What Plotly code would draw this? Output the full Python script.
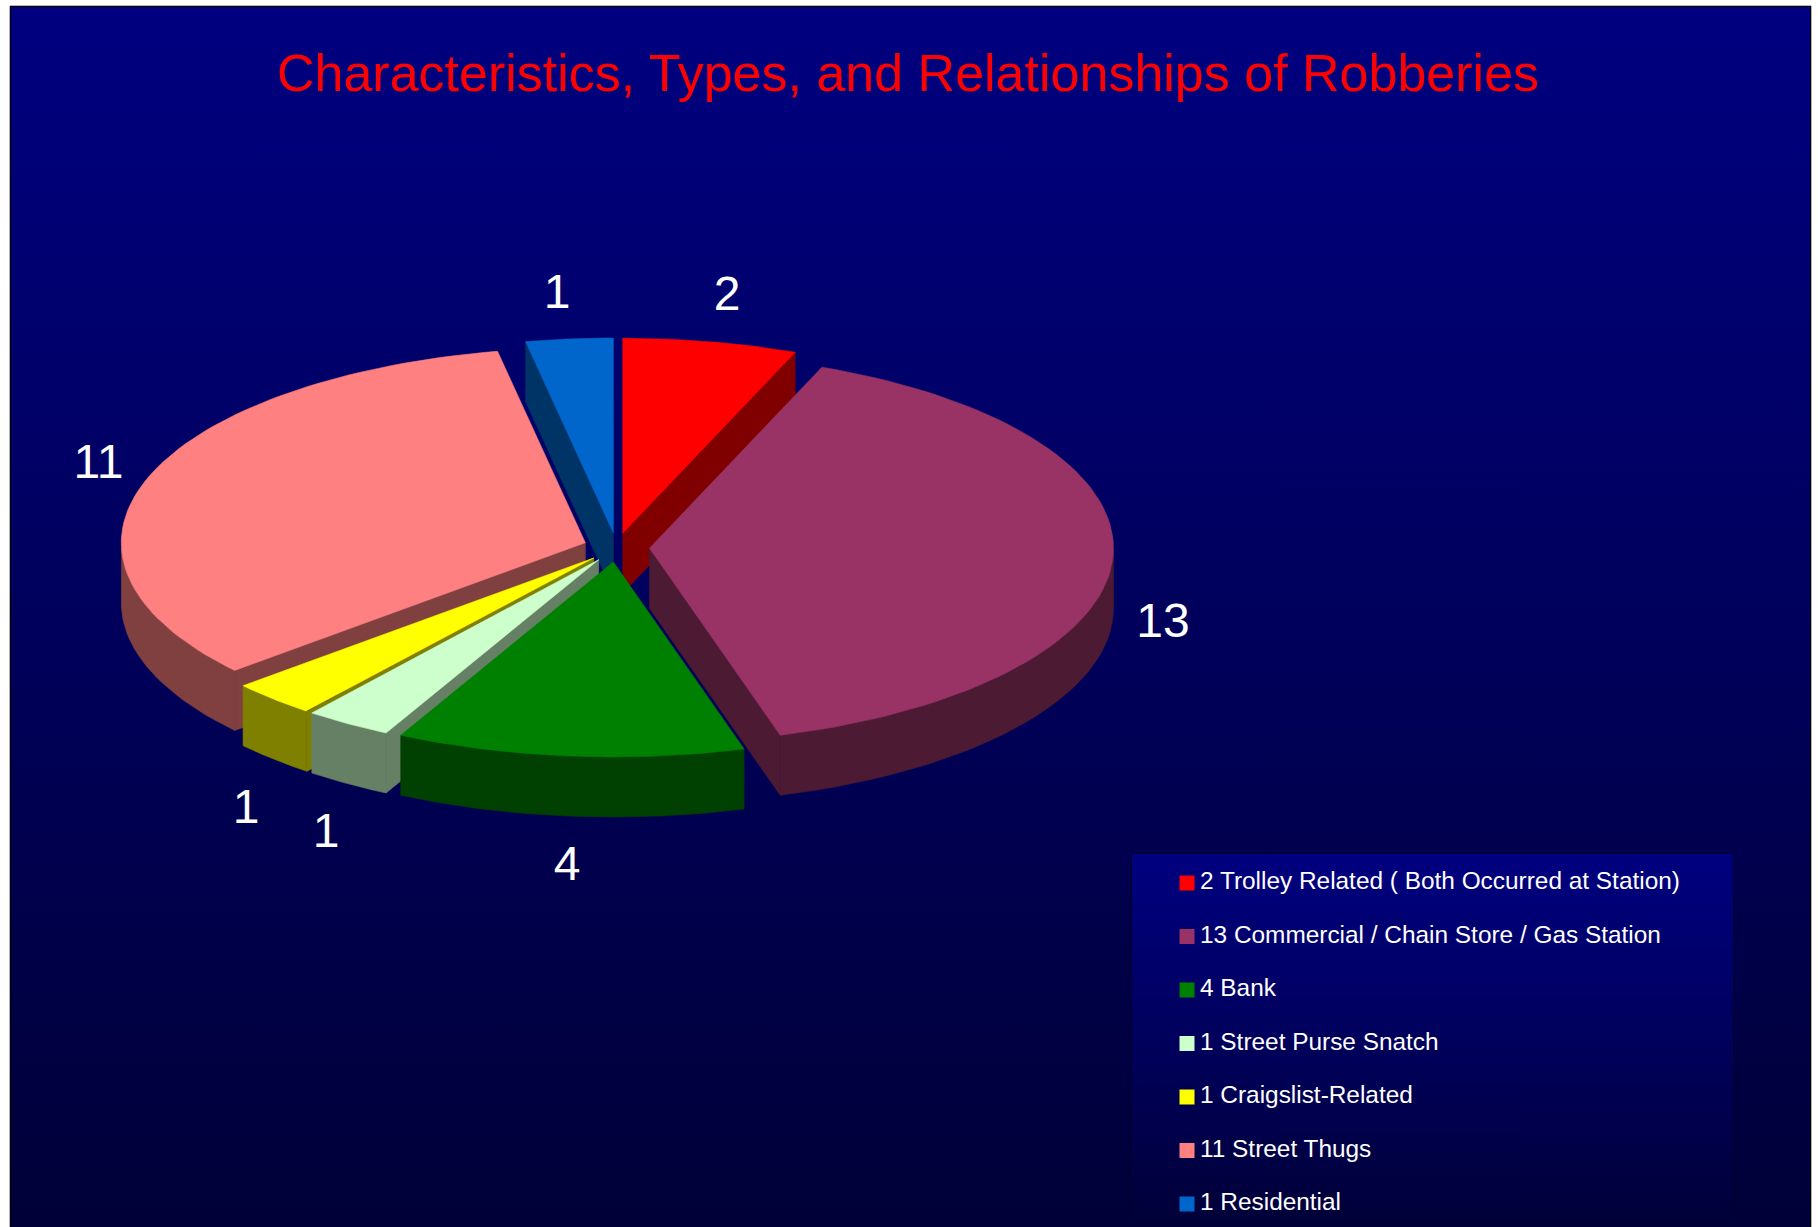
import numpy as np
import plotly.graph_objects as go

# --- data -------------------------------------------------------------
categories = ["Trolley Related ( Both Occurred at Station)",
              "Commercial / Chain Store / Gas Station",
              "Bank", "Street Purse Snatch", "Craigslist-Related",
              "Street Thugs", "Residential"]
values = [2, 13, 4, 1, 1, 11, 1]
top_colors = ["#FF0000", "#993366", "#008000", "#CCFFCC", "#FFFF00", "#FF8080", "#0066CC"]
side_colors = ["#800000", "#4D1A33", "#004000", "#668066", "#808000", "#804040", "#003366"]
title_text = "Characteristics, Types, and Relationships of Robberies"

# --- layout constants ---------------------------------------------------
W, H = 1818, 1227
CX, CY, RX, RY, DEPTH = 616.5, 547.5, 464.0, 195.0, 60.0
EX, EY = 33.0, 14.5
label_xy = [(727, 297.5), (1163, 624.5), (567, 867.5), (326, 834.5), (246, 810.5), (98.5, 465.5), (557, 295.5)]
draw_order = [6, 0, 5, 1, 4, 3, 2]

fig = go.Figure()


def poly(xs, ys, color=None, **kw):
    fig.add_trace(go.Scatter(
        x=list(xs) + [xs[0]], y=list(ys) + [ys[0]], mode="lines", fill="toself",
        fillcolor=color, line=dict(width=0.6 if color else 0, color=color or "rgba(0,0,0,0)"),
        hoverinfo="skip", showlegend=False, **kw))


# background panel (black frame, then the vertical gradient)
poly([10, 1811, 1811, 10], [6, 6, H, H], "#000000")
poly([11, 1810, 1810, 11], [7, 7, H, H], None,
     fillgradient=dict(type="vertical", start=7, stop=H,
                       colorscale=[[0, "#000080"], [1, "#000038"]]))
# legend panel
poly([1131, 1734, 1734, 1131], [853, 853, H, H], "#000033")
poly([1132, 1733, 1733, 1132], [854, 854, H, H], None,
     fillgradient=dict(type="vertical", start=854, stop=H,
                       colorscale=[[0, "#000080"], [1, "#000038"]]))

# exploded pie, projected from the values
total = sum(values)
edges = np.cumsum([0] + values) / total * 2 * np.pi
for i in draw_order:
    a0, a1 = edges[i], edges[i + 1]
    mid = (a0 + a1) / 2
    ax = CX + EX * np.sin(mid)
    ay = CY - EY * np.cos(mid)
    ang = np.linspace(a0, a1, 80)
    rim_x = ax + RX * np.sin(ang)
    rim_y = ay - RY * np.cos(ang)

    # cut faces turned towards the viewer
    for a, visible in ((a0, np.sin(a0) < -1e-9), (a1, np.sin(a1) > 1e-9)):
        if visible:
            px, py = ax + RX * np.sin(a), ay - RY * np.cos(a)
            poly([ax, px, px, ax], [ay, py, py + DEPTH, ay + DEPTH], side_colors[i])
    # outer wall: only the front part of the rim
    front = np.cos(ang) <= 0
    if front.sum() > 1:
        fx, fy = rim_x[front], rim_y[front]
        poly(list(fx) + list(fx[::-1]), list(fy) + list(fy[::-1] + DEPTH), side_colors[i])
    # top face
    poly([ax] + list(rim_x), [ay] + list(rim_y), top_colors[i])

# data labels
fig.add_trace(go.Scatter(
    x=[p[0] for p in label_xy], y=[p[1] for p in label_xy], mode="text",
    text=[str(v) for v in values], textposition="middle center",
    textfont=dict(family="Liberation Sans", size=48, color="#FFFFFF"),
    hoverinfo="skip", showlegend=False))

# legend (swatch + label per row)
row_y = [883 + 53.5 * k for k in range(len(values))]
fig.add_trace(go.Scatter(
    x=[1187] * len(values), y=row_y, mode="markers",
    marker=dict(symbol="square", size=15, color=top_colors, line=dict(width=0)),
    hoverinfo="skip", showlegend=False))
fig.add_trace(go.Scatter(
    x=[1200] * len(values), y=row_y, mode="text",
    text=[f"{v} {c}" for v, c in zip(values, categories)], textposition="middle right",
    textfont=dict(family="Liberation Sans", size=24.4, color="#FFFFFF"),
    hoverinfo="skip", showlegend=False))

fig.update_layout(
    width=W, height=H, margin=dict(l=0, r=0, t=0, b=0),
    paper_bgcolor="#FFFFFF", plot_bgcolor="#FFFFFF", showlegend=False,
    title=dict(text=title_text, x=908 / W, xanchor="center", y=1 - 73 / H, yanchor="middle",
               font=dict(family="Liberation Sans", size=52, color="#FF0000")),
    xaxis=dict(range=[0, W], visible=False, fixedrange=True),
    yaxis=dict(range=[H, 0], visible=False, fixedrange=True),
)
fig.write_html("out.html", config=dict(displayModeBar=False),
               post_script="document.body.style.margin='0';document.body.style.overflow='hidden';")
